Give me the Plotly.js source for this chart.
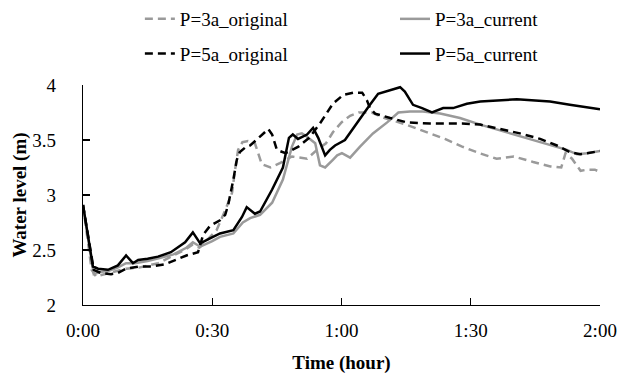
<!DOCTYPE html>
<html>
<head>
<meta charset="utf-8">
<script src="https://cdn.plot.ly/plotly-3.0.1.min.js"></script>
<style>html,body{margin:0;padding:0;background:#fff;}#chart{width:619px;height:374px;}</style>
</head>
<body>
<div id="chart"></div>
<script>
// Time in minutes, water level in m
const tickVals = [0, 30, 60, 90, 120];
const tickText = ["0:00", "0:30", "1:00", "1:30", "2:00"];

const t3aOrig = [0, 2, 3, 5, 7, 10, 13, 15, 17.5, 20.5, 23.5, 25.5, 27, 29, 31, 33, 34.6, 35.3, 36, 37, 38.3, 39.9, 40.6, 41.5, 43.5, 45.7, 48.5, 52, 54.6, 56.4, 58, 60, 62, 64, 67, 70, 75, 80, 84, 88, 92, 96, 100, 104.5, 108.5, 111, 112, 113.5, 115.5, 117, 118.8, 120];
const v3aOrig = [2.91, 2.32, 2.26, 2.28, 2.30, 2.33, 2.34, 2.36, 2.38, 2.44, 2.50, 2.55, 2.52, 2.60, 2.68, 2.86, 3.02, 3.23, 3.41, 3.48, 3.49, 3.47, 3.39, 3.28, 3.25, 3.29, 3.35, 3.33, 3.42, 3.47, 3.57, 3.66, 3.72, 3.75, 3.75, 3.70, 3.64, 3.57, 3.51, 3.44, 3.38, 3.33, 3.35, 3.30, 3.26, 3.25, 3.38, 3.33, 3.22, 3.23, 3.23, 3.21];

const t3aCurr = [0, 2.5, 4, 6, 8, 10, 12, 15, 18, 21, 24, 25.5, 27.2, 30, 31.8, 34.9, 37.1, 38.8, 41.1, 43.9, 46.4, 48.5, 49.7, 50.8, 52, 53.9, 55, 56.2, 58, 59, 60.1, 62, 64.3, 67.3, 70.6, 73.2, 75.9, 78.9, 82.9, 87.5, 92.2, 99.1, 106.8, 112.3, 114.7, 117, 120];
const v3aCurr = [2.91, 2.28, 2.30, 2.31, 2.34, 2.38, 2.38, 2.40, 2.43, 2.46, 2.52, 2.57, 2.53, 2.58, 2.62, 2.65, 2.75, 2.79, 2.82, 2.93, 3.14, 3.44, 3.55, 3.56, 3.53, 3.47, 3.27, 3.25, 3.32, 3.36, 3.38, 3.34, 3.44, 3.56, 3.66, 3.75, 3.76, 3.76, 3.74, 3.70, 3.64, 3.56, 3.47, 3.41, 3.37, 3.38, 3.40];

const t5aOrig = [0, 2.5, 4.2, 6.5, 8, 10, 13, 16, 19, 22, 24, 26.7, 27.9, 29.5, 31.8, 33, 33.7, 34.9, 35.7, 36.4, 37.6, 38.8, 40.3, 42.2, 43, 43.9, 45, 47, 50, 52.5, 55, 58, 60.4, 62.7, 64.8, 65.9, 66.6, 67.8, 71.3, 75.2, 80.5, 88, 92.2, 96.8, 101.4, 106.1, 110, 113, 115.4, 117, 120];
const v5aOrig = [2.91, 2.32, 2.29, 2.28, 2.29, 2.33, 2.35, 2.35, 2.37, 2.42, 2.45, 2.48, 2.64, 2.72, 2.77, 2.82, 2.91, 3.14, 3.32, 3.39, 3.43, 3.45, 3.50, 3.57, 3.60, 3.55, 3.41, 3.38, 3.44, 3.52, 3.65, 3.83, 3.91, 3.93, 3.93, 3.86, 3.79, 3.74, 3.70, 3.66, 3.65, 3.65, 3.64, 3.60, 3.56, 3.51, 3.45, 3.39, 3.37, 3.38, 3.40];

const t5aCurr = [0, 2.3, 3.5, 5.8, 8.1, 10, 11.6, 12.8, 15, 17.4, 20.4, 23.7, 25.5, 27.2, 29.7, 31.8, 34.9, 36.9, 38, 39.9, 41.1, 43.9, 46.4, 47.8, 48.7, 49.9, 52, 53.4, 54.6, 56.2, 57.3, 58.5, 60.8, 63.6, 66.6, 68.5, 71.3, 73.6, 74.7, 76.6, 78.7, 81, 83.6, 85.9, 89.1, 92.2, 100.7, 108.4, 113, 120];
const v5aCurr = [2.91, 2.35, 2.33, 2.32, 2.36, 2.45, 2.38, 2.41, 2.42, 2.44, 2.48, 2.57, 2.66, 2.56, 2.61, 2.65, 2.68, 2.80, 2.89, 2.83, 2.85, 3.05, 3.25, 3.52, 3.55, 3.51, 3.55, 3.61, 3.52, 3.36, 3.41, 3.45, 3.50, 3.66, 3.82, 3.92, 3.95, 3.98, 3.94, 3.82, 3.79, 3.75, 3.79, 3.79, 3.83, 3.85, 3.87, 3.85, 3.82, 3.78];

const names = ["P=3a_original", "P=3a_current", "P=5a_original", "P=5a_current"];

const FONT = "Liberation Serif, Times New Roman, serif";
const GRAY = "#9a9a9a";

const traces = [
  {x: t3aOrig, y: v3aOrig, name: names[0], mode: "lines", legend: "legend", legendgroup: "a",
   line: {color: GRAY, width: 2.5, dash: "8px,5px"}},
  {x: t3aCurr, y: v3aCurr, name: names[1], mode: "lines", legend: "legend2", legendgroup: "b",
   line: {color: GRAY, width: 2.5}},
  {x: t5aOrig, y: v5aOrig, name: names[2], mode: "lines", legend: "legend", legendgroup: "c",
   line: {color: "#000000", width: 2.5, dash: "8px,5px"}},
  {x: t5aCurr, y: v5aCurr, name: names[3], mode: "lines", legend: "legend2", legendgroup: "d",
   line: {color: "#000000", width: 2.5}}
];

const legendBase = {
  orientation: "v", xanchor: "left", yanchor: "top",
  xref: "paper", yref: "container", y: 1.0,
  bgcolor: "rgba(0,0,0,0)", borderwidth: 0, tracegroupgap: 7,
  font: {family: FONT, size: 19, color: "#000"}
};

const layout = {
  width: 619, height: 374,
  margin: {l: 83, r: 19, t: 85, b: 69, autoexpand: false},
  paper_bgcolor: "#fff", plot_bgcolor: "#fff",
  font: {family: FONT, size: 19, color: "#000"},
  showlegend: true,
  legend: Object.assign({}, legendBase, {x: 0.11}),
  legend2: Object.assign({}, legendBase, {x: 0.6035}),
  xaxis: {
    range: [0, 120], tickvals: tickVals, ticktext: tickText,
    showgrid: false, zeroline: false, showline: true, linecolor: "#000", linewidth: 1.2,
    ticks: "inside", ticklen: 7, tickcolor: "#000", tickwidth: 1.2,
    ticklabelstandoff: 8,
    tickfont: {family: FONT, size: 19, color: "#000"},
    title: {text: "<b>Time (hour)</b>", font: {family: FONT, size: 19, color: "#000"}, standoff: 21}
  },
  yaxis: {
    range: [2, 4], tickvals: [2, 2.5, 3, 3.5, 4], ticktext: ["2", "2.5", "3", "3.5", "4"],
    showgrid: false, zeroline: false, showline: true, linecolor: "#000", linewidth: 1.2,
    ticks: "inside", ticklen: 7, tickcolor: "#000", tickwidth: 1.2,
    ticklabelstandoff: 22,
    tickfont: {family: FONT, size: 19, color: "#000"},
    title: {text: "<b>Water level (m)</b>", font: {family: FONT, size: 19, color: "#000"}, standoff: 0}
  }
};

Plotly.newPlot("chart", traces, layout, {staticPlot: true, displayModeBar: false});
</script>
</body>
</html>
